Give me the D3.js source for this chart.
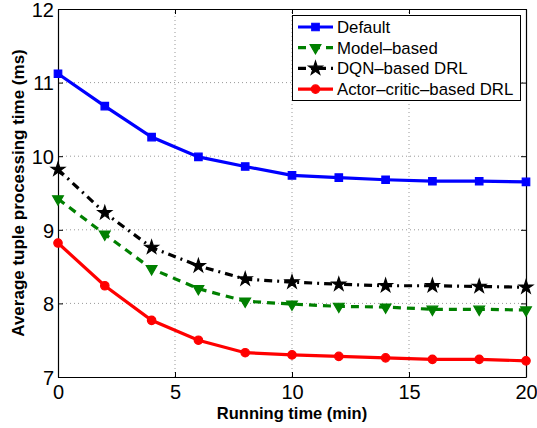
<!DOCTYPE html>
<html><head><meta charset="utf-8">
<script src="https://cdn.jsdelivr.net/npm/d3@7"></script>
<style>body{margin:0;background:#fff;} svg{display:block;}</style>
</head><body>
<script>
const xValues = [0, 2, 4, 6, 8, 10, 12, 14, 16, 18, 20];
const defaultVals = [11.12, 10.68, 10.26, 9.99, 9.86, 9.74, 9.71, 9.68, 9.66, 9.66, 9.65];
const modelVals = [9.42, 8.94, 8.47, 8.20, 8.03, 7.99, 7.96, 7.95, 7.92, 7.92, 7.91];
const dqnVals = [9.82, 9.23, 8.76, 8.51, 8.33, 8.29, 8.26, 8.24, 8.24, 8.23, 8.22];
const acVals = [8.82, 8.24, 7.77, 7.50, 7.33, 7.30, 7.28, 7.26, 7.24, 7.24, 7.22];
const seriesNames = ["Default", "Model\u2013based", "DQN\u2013based DRL", "Actor\u2013critic\u2013based DRL"];
const xTicks = [0, 5, 10, 15, 20];
const yTicks = [7, 8, 9, 10, 11, 12];

const W = 537, H = 428;
const m = {left: 58, right: 11, top: 9, bottom: 51};
const svg = d3.select("body").append("svg").attr("width", W).attr("height", H)
  .style("font-family", "Arial, 'Liberation Sans', Helvetica, sans-serif");

const x = d3.scaleLinear().domain([0, 20]).range([m.left, W - m.right]);
const y = d3.scaleLinear().domain([7, 12]).range([H - m.bottom, m.top]);

// grid
const g = svg.append("g");
g.selectAll(".gx").data(xTicks.slice(1, -1)).join("line")
  .attr("x1", d => x(d)).attr("x2", d => x(d)).attr("y1", y(7)).attr("y2", y(12))
  .attr("stroke", "#999").attr("stroke-width", 1).attr("stroke-dasharray", "1,3");
g.selectAll(".gy").data(yTicks.slice(1, -1)).join("line")
  .attr("y1", d => y(d)).attr("y2", d => y(d)).attr("x1", x(0)).attr("x2", x(20))
  .attr("stroke", "#999").attr("stroke-width", 1).attr("stroke-dasharray", "1,3");

// axes
const fmt = d3.format("d");
const xAxis = d3.axisBottom(x).tickValues(xTicks).tickFormat(fmt).tickSizeInner(-5).tickSizeOuter(0).tickPadding(8);
const yAxis = d3.axisLeft(y).tickValues(yTicks).tickFormat(fmt).tickSizeInner(-5).tickSizeOuter(0).tickPadding(4);
const xa = svg.append("g").attr("transform", `translate(0,${y(7)})`).call(xAxis);
const ya = svg.append("g").attr("transform", `translate(${x(0)},0)`).call(yAxis);
const xTop = svg.append("g").attr("transform", `translate(0,${y(12)})`).call(d3.axisTop(x).tickValues(xTicks).tickSizeInner(-5).tickSizeOuter(0).tickFormat(""));
const yRight = svg.append("g").attr("transform", `translate(${x(20)},0)`).call(d3.axisRight(y).tickValues(yTicks).tickSizeInner(-5).tickSizeOuter(0).tickFormat(""));
[xa, ya, xTop, yRight].forEach(a => {
  a.select(".domain").attr("stroke", "#000").attr("stroke-width", 1.2);
  a.selectAll(".tick line").attr("stroke", "#000");
  a.selectAll("text").attr("font-size", 20).attr("fill", "#000").style("font-family", "Arial, 'Liberation Sans', sans-serif");
});
ya.selectAll("text").attr("dy", "0.36em");

// titles
svg.append("text").attr("x", 292).attr("y", 419).attr("text-anchor", "middle")
  .attr("font-size", 16.5).attr("font-weight", "bold").text("Running time (min)");
svg.append("text").attr("transform", `translate(24,${(y(7)+y(12))/2}) rotate(-90)`).attr("text-anchor", "middle")
  .attr("font-size", 17).attr("font-weight", "bold").text("Average tuple processing time (ms)");

const series = [
  {name: seriesNames[0], vals: defaultVals, color: "#0000ff", dash: null, marker: "square"},
  {name: seriesNames[1], vals: modelVals, color: "#008000", dash: "8,6", marker: "tri"},
  {name: seriesNames[2], vals: dqnVals, color: "#000000", dash: "8,5,2,5", marker: "star"},
  {name: seriesNames[3], vals: acVals, color: "#ff0000", dash: null, marker: "circle"}
];

const symbolFor = k => {
  if (k === "square") return d3.symbol().type(d3.symbolSquare).size(56)();
  if (k === "circle") return d3.symbol().type(d3.symbolCircle).size(56)();
  if (k === "star") return d3.symbol().type(d3.symbolStar).size(58)();
  return d3.symbol().type(d3.symbolTriangle).size(50)();
};
const rotFor = k => k === "tri" ? " rotate(180)" : "";

const line = d3.line().x((d, i) => x(xValues[i])).y(d => y(d));
series.forEach(s => {
  svg.append("path").datum(s.vals).attr("d", line).attr("fill", "none")
    .attr("stroke", s.color).attr("stroke-width", 3.2)
    .attr("stroke-dasharray", s.dash);
  svg.selectAll(null).data(s.vals).join("path")
    .attr("d", symbolFor(s.marker))
    .attr("transform", (d, i) => `translate(${x(xValues[i])},${y(d)})${rotFor(s.marker)}`)
    .attr("fill", s.color).attr("stroke", s.color).attr("stroke-width", 1.2);
});

// legend
const lg = svg.append("g");
lg.append("rect").attr("x", 292.5).attr("y", 15.5).attr("width", 228).attr("height", 85)
  .attr("fill", "#fff").attr("stroke", "#000").attr("stroke-width", 1);
series.forEach((s, i) => {
  const ly = 27 + i * 20.7;
  lg.append("line").attr("x1", 298).attr("x2", 333).attr("y1", ly).attr("y2", ly)
    .attr("stroke", s.color).attr("stroke-width", 3.2).attr("stroke-dasharray", s.dash);
  lg.append("path").attr("d", symbolFor(s.marker))
    .attr("transform", `translate(315.5,${ly})${rotFor(s.marker)}`)
    .attr("fill", s.color).attr("stroke", s.color).attr("stroke-width", 1.2);
  lg.append("text").attr("x", 337).attr("y", ly + 6).attr("font-size", 16.8).text(s.name);
});
</script>
</body></html>
